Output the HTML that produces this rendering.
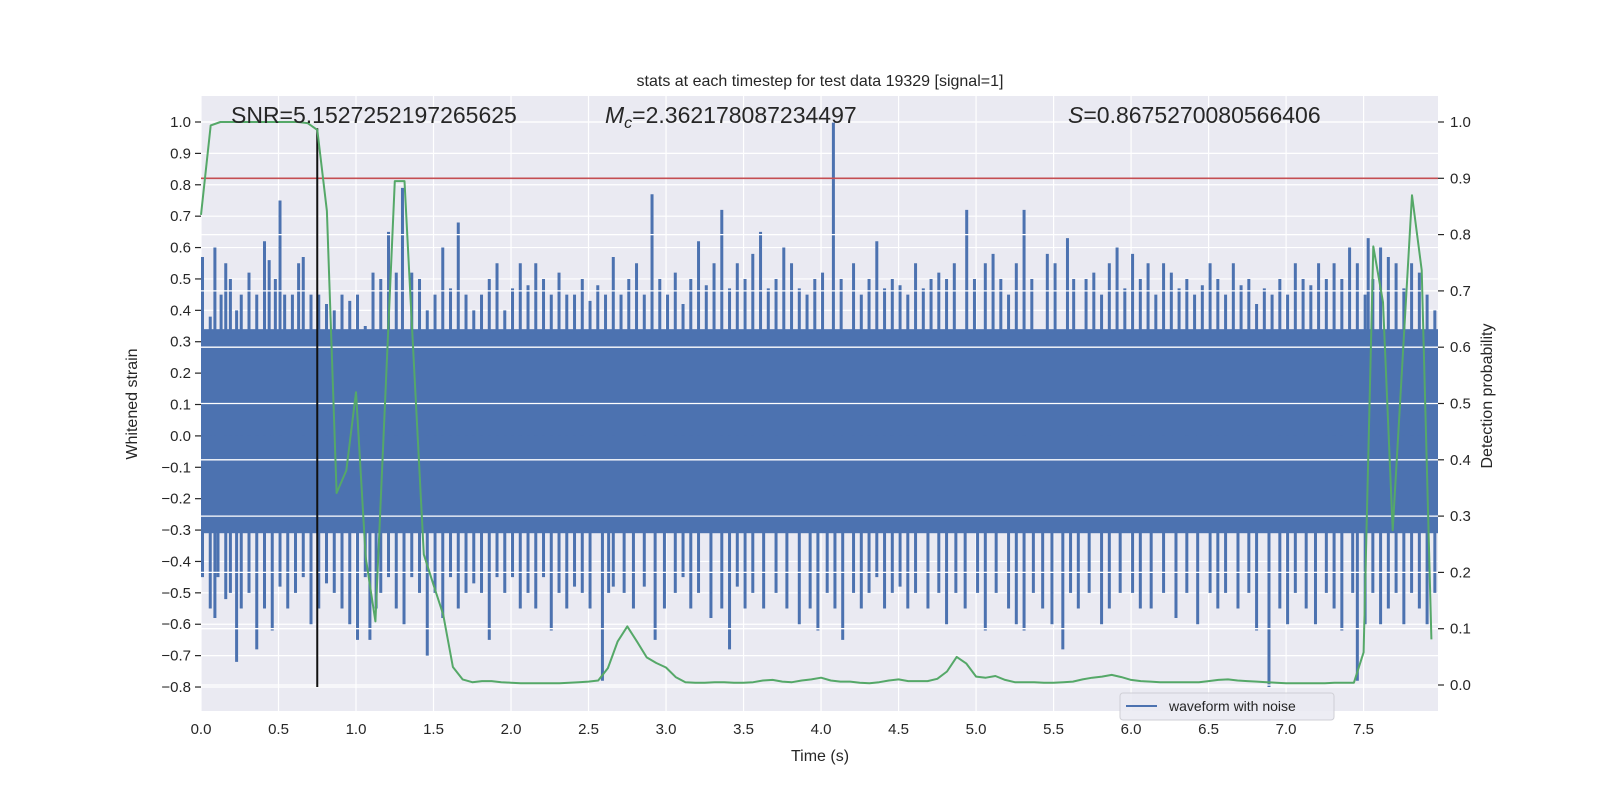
<!DOCTYPE html>
<html><head><meta charset="utf-8"><style>
html,body{margin:0;padding:0;background:#fff;}
svg{display:block;font-family:"Liberation Sans","DejaVu Sans",sans-serif;}
</style></head><body>
<svg id="chart" width="1600" height="800" viewBox="0 0 1600 800">
<rect x="201" y="96" width="1237" height="615" fill="#EAEAF2"/>
<g id="grid"></g>
<g id="wave"></g>
<g id="grid2"></g>
<g id="marks"></g>
<g id="axes"></g>
<text x="820" y="86" text-anchor="middle" font-size="16" fill="#262626">stats at each timestep for test data 19329 [signal=1]</text>
<text x="231" y="123" font-size="23" fill="#262626">SNR=5.1527252197265625</text>
<text x="605" y="123" font-size="23" fill="#262626"><tspan font-style="italic">M</tspan><tspan font-style="italic" font-size="16" dy="5">c</tspan><tspan dy="-5">=2.362178087234497</tspan></text>
<text x="1068" y="123" font-size="23" fill="#262626"><tspan font-style="italic">S</tspan>=0.8675270080566406</text>
<text x="820" y="761" text-anchor="middle" font-size="16" fill="#262626">Time (s)</text>
<text transform="translate(137,404) rotate(-90)" text-anchor="middle" font-size="16" fill="#262626">Whitened strain</text>
<text transform="translate(1492,396) rotate(-90)" text-anchor="middle" font-size="16" fill="#262626">Detection probability</text>
<g>
<rect x="1120" y="693" width="214" height="27" rx="3" fill="#EAEAF2" fill-opacity="0.85" stroke="#cfcfd6"/>
<line x1="1126" y1="706" x2="1157" y2="706" stroke="#4C72B0" stroke-width="2"/>
<text x="1169" y="711" font-size="14" fill="#262626">waveform with noise</text>
</g>
</svg>
<script>
const probTimeStep = 0.0625;
const probValues = [0.835,0.994,1,1,1,1,1,1,1,1,1,0.998,0.986,0.842,0.341,0.381,0.52,0.227,0.113,0.504,0.895,0.895,0.564,0.232,0.178,0.125,0.032,0.01,0.005,0.007,0.007,0.005,0.004,0.003,0.003,0.003,0.003,0.003,0.004,0.005,0.006,0.008,0.03,0.077,0.104,0.077,0.049,0.039,0.031,0.014,0.005,0.004,0.004,0.005,0.005,0.004,0.004,0.005,0.008,0.009,0.006,0.005,0.008,0.01,0.013,0.008,0.006,0.006,0.004,0.003,0.005,0.008,0.01,0.007,0.007,0.007,0.011,0.024,0.05,0.038,0.015,0.013,0.016,0.009,0.005,0.005,0.005,0.004,0.004,0.005,0.006,0.01,0.013,0.015,0.018,0.014,0.009,0.007,0.006,0.005,0.005,0.005,0.005,0.005,0.007,0.009,0.01,0.008,0.007,0.006,0.005,0.004,0.003,0.003,0.003,0.003,0.003,0.004,0.004,0.004,0.058,0.779,0.68,0.275,0.57,0.87,0.737,0.081];
const threshold = 0.9;
const markerTime = 0.75;
const coreTop = 0.34;
const coreBottom = -0.31;
const upTimes = [0,0.05,0.08,0.12,0.15,0.18,0.22,0.25,0.3,0.35,0.4,0.43,0.47,0.5,0.53,0.58,0.62,0.65,0.7,0.75,0.8,0.85,0.9,0.95,1.0,1.05,1.1,1.15,1.2,1.25,1.29,1.35,1.4,1.45,1.5,1.55,1.6,1.65,1.7,1.75,1.8,1.85,1.9,1.95,2.0,2.05,2.1,2.15,2.2,2.25,2.3,2.35,2.4,2.45,2.5,2.55,2.6,2.65,2.7,2.75,2.8,2.85,2.9,2.95,3.0,3.05,3.1,3.15,3.2,3.25,3.3,3.35,3.4,3.45,3.5,3.55,3.6,3.65,3.7,3.75,3.8,3.85,3.9,3.95,4.0,4.07,4.12,4.2,4.25,4.3,4.35,4.4,4.45,4.5,4.55,4.6,4.65,4.7,4.75,4.8,4.85,4.93,4.98,5.05,5.1,5.15,5.2,5.25,5.3,5.35,5.45,5.5,5.58,5.62,5.7,5.75,5.8,5.85,5.9,5.95,6.0,6.05,6.1,6.15,6.2,6.25,6.3,6.35,6.4,6.45,6.5,6.55,6.6,6.65,6.7,6.75,6.8,6.85,6.9,6.95,7.0,7.05,7.1,7.15,7.2,7.25,7.3,7.35,7.4,7.45,7.5,7.52,7.55,7.6,7.65,7.7,7.75,7.8,7.85,7.9,7.95];
const upValues = [0.57,0.38,0.6,0.45,0.55,0.5,0.4,0.45,0.52,0.45,0.62,0.56,0.5,0.75,0.45,0.45,0.55,0.57,0.45,0.45,0.42,0.4,0.45,0.43,0.45,0.35,0.52,0.5,0.65,0.52,0.79,0.52,0.5,0.4,0.45,0.6,0.47,0.68,0.45,0.4,0.45,0.5,0.55,0.4,0.47,0.55,0.48,0.55,0.5,0.45,0.52,0.45,0.45,0.5,0.43,0.48,0.45,0.57,0.45,0.5,0.55,0.45,0.77,0.5,0.45,0.52,0.42,0.5,0.62,0.48,0.55,0.72,0.47,0.55,0.5,0.58,0.65,0.47,0.5,0.6,0.55,0.47,0.45,0.5,0.52,1.0,0.5,0.55,0.45,0.5,0.62,0.47,0.5,0.48,0.45,0.55,0.47,0.5,0.52,0.5,0.55,0.72,0.5,0.55,0.58,0.5,0.45,0.55,0.72,0.5,0.58,0.55,0.63,0.5,0.5,0.52,0.45,0.55,0.6,0.47,0.58,0.5,0.55,0.45,0.55,0.52,0.47,0.5,0.45,0.48,0.55,0.5,0.45,0.55,0.48,0.5,0.42,0.47,0.45,0.5,0.45,0.55,0.5,0.48,0.55,0.5,0.55,0.5,0.6,0.55,0.45,0.63,0.5,0.6,0.57,0.55,0.47,0.55,0.52,0.45,0.4];
const dnTimes = [0,0.05,0.08,0.1,0.15,0.18,0.22,0.25,0.3,0.35,0.4,0.45,0.5,0.55,0.6,0.65,0.7,0.75,0.8,0.85,0.9,0.95,1.0,1.05,1.08,1.12,1.15,1.2,1.25,1.3,1.35,1.4,1.45,1.5,1.55,1.6,1.65,1.7,1.75,1.8,1.85,1.9,1.95,2.0,2.05,2.1,2.15,2.2,2.25,2.3,2.35,2.4,2.45,2.5,2.58,2.62,2.65,2.72,2.78,2.85,2.92,2.98,3.05,3.1,3.15,3.2,3.28,3.35,3.4,3.45,3.5,3.55,3.62,3.7,3.77,3.85,3.92,3.97,4.03,4.08,4.13,4.2,4.25,4.3,4.35,4.4,4.45,4.5,4.55,4.6,4.68,4.75,4.8,4.86,4.92,5.0,5.05,5.12,5.2,5.25,5.3,5.36,5.42,5.48,5.55,5.6,5.65,5.72,5.8,5.85,5.92,6.0,6.05,6.12,6.2,6.28,6.35,6.42,6.5,6.55,6.6,6.68,6.75,6.8,6.88,6.95,7.0,7.05,7.12,7.18,7.25,7.3,7.35,7.42,7.45,7.5,7.55,7.6,7.65,7.7,7.75,7.8,7.85,7.9,7.95];
const dnValues = [-0.45,-0.55,-0.58,-0.45,-0.52,-0.5,-0.72,-0.55,-0.5,-0.68,-0.55,-0.62,-0.48,-0.55,-0.5,-0.45,-0.6,-0.55,-0.47,-0.5,-0.55,-0.6,-0.65,-0.45,-0.65,-0.55,-0.5,-0.45,-0.55,-0.6,-0.45,-0.5,-0.7,-0.5,-0.58,-0.45,-0.55,-0.5,-0.47,-0.5,-0.65,-0.45,-0.5,-0.45,-0.55,-0.5,-0.55,-0.45,-0.62,-0.5,-0.55,-0.48,-0.5,-0.55,-0.78,-0.5,-0.48,-0.5,-0.55,-0.48,-0.65,-0.55,-0.5,-0.45,-0.55,-0.5,-0.58,-0.55,-0.68,-0.48,-0.55,-0.5,-0.55,-0.5,-0.55,-0.6,-0.55,-0.62,-0.5,-0.55,-0.65,-0.5,-0.55,-0.5,-0.45,-0.55,-0.5,-0.48,-0.55,-0.5,-0.55,-0.5,-0.6,-0.5,-0.55,-0.5,-0.62,-0.5,-0.55,-0.6,-0.62,-0.5,-0.55,-0.6,-0.68,-0.5,-0.55,-0.5,-0.6,-0.55,-0.5,-0.5,-0.55,-0.55,-0.5,-0.58,-0.5,-0.6,-0.5,-0.55,-0.5,-0.55,-0.5,-0.62,-0.8,-0.55,-0.6,-0.5,-0.55,-0.6,-0.5,-0.55,-0.62,-0.5,-0.78,-0.6,-0.5,-0.6,-0.55,-0.5,-0.6,-0.5,-0.55,-0.6,-0.5];
const xTicks = ["0.0","0.5","1.0","1.5","2.0","2.5","3.0","3.5","4.0","4.5","5.0","5.5","6.0","6.5","7.0","7.5"];
const leftTicks = ["1.0","0.9","0.8","0.7","0.6","0.5","0.4","0.3","0.2","0.1","0.0","-0.1","-0.2","-0.3","-0.4","-0.5","-0.6","-0.7","-0.8"];
const rightTicks = ["0.0","0.1","0.2","0.3","0.4","0.5","0.6","0.7","0.8","0.9","1.0"];

const NS = "http://www.w3.org/2000/svg";
const X0 = 201, X1 = 1438, Y0 = 96, Y1 = 711, XMAX = 7.98;
function xS(t){ return X0 + t * (X1 - X0) / XMAX; }
function yL(v){ return 122 + (1 - v) * 313.9; }
function yR(p){ return 685 - p * 563; }
function mk(tag, attrs, parent){
  const e = document.createElementNS(NS, tag);
  for (const k in attrs) e.setAttribute(k, attrs[k]);
  parent.appendChild(e);
  return e;
}
const grid = document.getElementById('grid');
const grid2 = document.getElementById('grid2');
const wave = document.getElementById('wave');
const marks = document.getElementById('marks');
const axes = document.getElementById('axes');

xTicks.forEach(function(s){
  const x = xS(parseFloat(s));
  const g = mk('line', {x1:x, x2:x, y1:Y0, y2:Y1, stroke:'#fff', 'stroke-width':1.2}, grid);
  
  
  const t = mk('text', {x:x, y:734, 'text-anchor':'middle', 'font-size':15, fill:'#262626'}, axes);
  t.textContent = s;
  
  
});
leftTicks.forEach(function(s){
  const y = yL(parseFloat(s));
  const g = mk('line', {x1:X0, x2:X1, y1:y, y2:y, stroke:'#fff', 'stroke-width':1.2}, grid);
  
  
  const tk = mk('line', {x1:X0-6, x2:X0, y1:y, y2:y, stroke:'#262626', 'stroke-width':1.2}, axes);
  
  
  const t = mk('text', {x:X0-10, y:y+5, 'text-anchor':'end', 'font-size':15, fill:'#262626'}, axes);
  t.textContent = s.replace('-', '\u2212');
  
  
});
rightTicks.forEach(function(s){
  const y = yR(parseFloat(s));
  const g = mk('line', {x1:X0, x2:X1, y1:y, y2:y, stroke:'#fff', 'stroke-width':1.3}, grid2);
  
  
  const tk = mk('line', {x1:X1, x2:X1+6, y1:y, y2:y, stroke:'#262626', 'stroke-width':1.2}, axes);
  
  
  const t = mk('text', {x:X1+12, y:y+5, 'text-anchor':'start', 'font-size':15, fill:'#262626'}, axes);
  t.textContent = s;
  
  
});

const core = mk('rect', {x:X0, y:yL(coreTop), width:X1-X0, height:yL(coreBottom)-yL(coreTop), fill:'#4C72B0'}, wave);


upTimes.forEach(function(t, i){
  const x = Math.min(X1-1.5, xS(t)+1.5);
  const l = mk('line', {x1:x, x2:x, y1:yL(0), y2:yL(upValues[i]), stroke:'#4C72B0', 'stroke-width':3}, wave);
  
  
});
dnTimes.forEach(function(t, i){
  const x = Math.min(X1-1.5, xS(t)+1.5);
  const l = mk('line', {x1:x, x2:x, y1:yL(0), y2:yL(dnValues[i]), stroke:'#4C72B0', 'stroke-width':3}, wave);
  
  
});

const th = mk('line', {x1:X0, x2:X1, y1:yR(threshold), y2:yR(threshold), stroke:'#C44E52', 'stroke-width':1.6}, marks);


const mkl = mk('line', {x1:xS(markerTime), x2:xS(markerTime), y1:yL(0.98), y2:yL(-0.8), stroke:'#111', 'stroke-width':2}, marks);


const pts = probValues.map(function(p, i){ return xS(i*probTimeStep).toFixed(1) + ',' + yR(p).toFixed(1); }).join(' ');
const pl = mk('polyline', {points:pts, fill:'none', stroke:'#55A868', 'stroke-width':2, 'stroke-linejoin':'round'}, marks);


</script>
</body></html>
